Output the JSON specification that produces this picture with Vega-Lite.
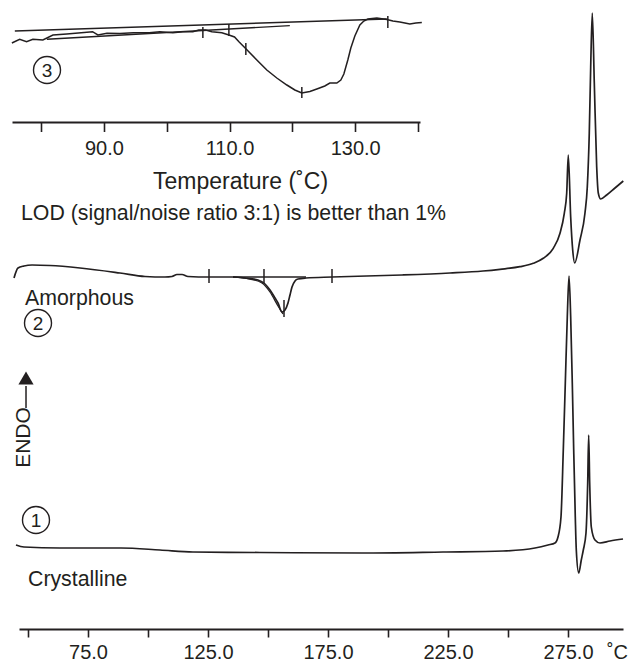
{
  "$schema": "https://vega.github.io/schema/vega-lite/v6.json",
  "width": 629,
  "height": 629,
  "autosize": {"type": "none"},
  "padding": {"left": 0, "top": 0, "right": 0, "bottom": 33},
  "config": {
    "view": {"stroke": null},
    "font": "Liberation Sans",
    "axis": {"grid": false, "domainColor": "#231f20", "tickColor": "#231f20", "labelColor": "#231f20", "titleColor": "#231f20", "domainWidth": 1.8, "tickWidth": 1.6, "labelFont": "Liberation Sans", "titleFont": "Liberation Sans", "titleFontWeight": "normal"}
  },
  "datasets": {
    "c1": [
      {"T": 45.0, "s": 84}, {"T": 48.33, "s": 82}, {"T": 63.33, "s": 81}, {"T": 88.75, "s": 81},
      {"T": 105, "s": 79}, {"T": 118.75, "s": 77}, {"T": 146.67, "s": 76.5}, {"T": 189.17, "s": 76},
      {"T": 222.92, "s": 77}, {"T": 247.92, "s": 78}, {"T": 261.25, "s": 81}, {"T": 266.67, "s": 84},
      {"T": 269.58, "s": 86}, {"T": 270.83, "s": 92}, {"T": 272.08, "s": 112}, {"T": 273.04, "s": 179},
      {"T": 273.88, "s": 246}, {"T": 274.71, "s": 312}, {"T": 275.42, "s": 353}, {"T": 276.12, "s": 312},
      {"T": 276.79, "s": 246}, {"T": 277.38, "s": 179}, {"T": 278.04, "s": 112}, {"T": 278.46, "s": 79},
      {"T": 279.46, "s": 56}, {"T": 280.54, "s": 69}, {"T": 281.38, "s": 79}, {"T": 282.5, "s": 96},
      {"T": 283.21, "s": 146}, {"T": 283.62, "s": 194}, {"T": 284.04, "s": 146}, {"T": 284.71, "s": 102},
      {"T": 286.25, "s": 89}, {"T": 288.33, "s": 86}, {"T": 292.5, "s": 88}, {"T": 297.92, "s": 90}
    ],
    "c2": [
      {"T": 44.17, "s": 351}, {"T": 45.83, "s": 361}, {"T": 48.33, "s": 363}, {"T": 51.67, "s": 364},
      {"T": 59.17, "s": 363.5}, {"T": 71.67, "s": 361}, {"T": 88.33, "s": 356}, {"T": 98.75, "s": 352.5},
      {"T": 107.08, "s": 352}, {"T": 110, "s": 352.5}, {"T": 112.08, "s": 354.5}, {"T": 114.17, "s": 354.5},
      {"T": 116.67, "s": 352.5}, {"T": 125.42, "s": 352}, {"T": 135.42, "s": 352}, {"T": 140.42, "s": 351},
      {"T": 145.83, "s": 349}, {"T": 148.75, "s": 345}, {"T": 150.83, "s": 339}, {"T": 152.92, "s": 331},
      {"T": 154.17, "s": 326}, {"T": 155.83, "s": 317}, {"T": 157.08, "s": 319}, {"T": 158.33, "s": 326},
      {"T": 159.17, "s": 334}, {"T": 160, "s": 342}, {"T": 161.25, "s": 348}, {"T": 162.5, "s": 350},
      {"T": 165.83, "s": 351}, {"T": 176.67, "s": 352}, {"T": 205.83, "s": 354}, {"T": 225.83, "s": 356},
      {"T": 239.58, "s": 358}, {"T": 246.67, "s": 359.7}, {"T": 255, "s": 362.3}, {"T": 260.54, "s": 365.7},
      {"T": 264.71, "s": 370.7}, {"T": 268.87, "s": 380.7}, {"T": 271.67, "s": 395.7}, {"T": 273.46, "s": 415.7},
      {"T": 274.46, "s": 435.7}, {"T": 275.12, "s": 474}, {"T": 276.12, "s": 412}, {"T": 276.96, "s": 379},
      {"T": 277.79, "s": 366}, {"T": 280, "s": 389}, {"T": 282.08, "s": 416}, {"T": 283.04, "s": 442},
      {"T": 283.87, "s": 496}, {"T": 284.46, "s": 562}, {"T": 285.12, "s": 616}, {"T": 285.96, "s": 546},
      {"T": 286.96, "s": 462}, {"T": 287.62, "s": 436}, {"T": 288.62, "s": 430}, {"T": 291.12, "s": 434},
      {"T": 294.58, "s": 441}, {"T": 298.04, "s": 448}
    ],
    "c2b": [
      {"T": 135.42, "s": 352}, {"T": 142.5, "s": 350}, {"T": 147.5, "s": 346},
      {"T": 150.83, "s": 337}, {"T": 154.17, "s": 323}, {"T": 156.25, "s": 315}
    ],
    "c2base": [{"T": 135.42, "T2": 165.83, "s": 352}],
    "c2ticks": [
      {"T": 125.42, "s": 360, "s2": 346}, {"T": 148.33, "s": 360, "s2": 346},
      {"T": 176.67, "s": 360, "s2": 346}, {"T": 156.67, "s": 329, "s2": 312}
    ],
    "arrow": [{"T": 49.17, "s": 221, "s2": 243}],
    "arrowhead": [{"T": 49.17, "s": 251}],
    "notes": [
      {"T": 47.08, "s": 409, "label": "LOD (signal/noise ratio 3:1) is better than 1%"},
      {"T": 48.75, "s": 324, "label": "Amorphous"},
      {"T": 50.0, "s": 43, "label": "Crystalline"}
    ],
    "endo": [{"T": 50.83, "s": 191.5, "label": "ENDO"}],
    "circles": [
      {"T": 57.92, "s": 559, "label": "3"},
      {"T": 54.17, "s": 306, "label": "2"},
      {"T": 53.33, "s": 109, "label": "1"}
    ],
    "c3": [
      {"T": 75.36, "s": 586}, {"T": 76.6, "s": 589.7}, {"T": 77.7, "s": 587.3}, {"T": 78.7, "s": 589.7},
      {"T": 80.29, "s": 589}, {"T": 81.9, "s": 594}, {"T": 84.1, "s": 595}, {"T": 88.2, "s": 597.3},
      {"T": 89.05, "s": 594}, {"T": 90.5, "s": 595.7}, {"T": 92.55, "s": 595.5}, {"T": 94.7, "s": 596.3},
      {"T": 97.2, "s": 596.3}, {"T": 98.91, "s": 597.3}, {"T": 100.98, "s": 596.3}, {"T": 102.57, "s": 597.3},
      {"T": 104.17, "s": 597.3}, {"T": 105.1, "s": 599}, {"T": 106.2, "s": 599}, {"T": 107.2, "s": 597.3},
      {"T": 108.78, "s": 596.3}, {"T": 109.9, "s": 594}, {"T": 110.8, "s": 592}, {"T": 111.5, "s": 587.3},
      {"T": 112.8, "s": 579}, {"T": 114.35, "s": 569}, {"T": 115.94, "s": 559},
      {"T": 117.53, "s": 551}, {"T": 119.13, "s": 544}, {"T": 120.4, "s": 539}, {"T": 121.51, "s": 536},
      {"T": 122.79, "s": 537.5}, {"T": 123.9, "s": 540}, {"T": 125.17, "s": 543}, {"T": 125.97, "s": 546},
      {"T": 127.08, "s": 546}, {"T": 127.72, "s": 549}, {"T": 128.2, "s": 555}, {"T": 128.83, "s": 569},
      {"T": 129.31, "s": 581}, {"T": 129.95, "s": 593}, {"T": 130.75, "s": 604}, {"T": 131.38, "s": 608},
      {"T": 132.02, "s": 610}, {"T": 133.45, "s": 611}, {"T": 135.04, "s": 609.5}, {"T": 136.0, "s": 608},
      {"T": 137.11, "s": 607}, {"T": 137.91, "s": 606}, {"T": 138.7, "s": 605}, {"T": 139.66, "s": 606},
      {"T": 140.61, "s": 606.5}
    ],
    "c3lines": [
      {"id": "a", "T": 75.83, "s": 598}, {"id": "a", "T": 135.04, "s": 610},
      {"id": "b", "T": 80.93, "s": 589.7}, {"id": "b", "T": 119.6, "s": 603.4}
    ],
    "c3ticks": [
      {"T": 105.76, "s": 602, "s2": 591}, {"T": 109.9, "s": 605, "s2": 593},
      {"T": 112.6, "s": 586, "s2": 574}, {"T": 121.51, "s": 542, "s2": 531},
      {"T": 135.2, "s": 613, "s2": 601}
    ]
  },
  "layer": [
    {
      "layer": [
        {
          "data": {"name": "c1"},
          "mark": {"type": "line", "interpolate": "monotone", "color": "#231f20", "strokeWidth": 1.7},
          "encoding": {
            "x": {"field": "T", "type": "quantitative",
              "scale": {"domain": [46.25, 297.92], "range": [19, 623], "nice": false, "zero": false},
              "axis": {"orient": "bottom", "values": [50, 75, 100, 125, 150, 175, 200, 225, 250, 275],
                "labelExpr": "datum.value % 50 == 25 ? format(datum.value, '.1f') : ''",
                "tickSize": 8, "labelPadding": 5, "labelFontSize": 20, "labelFlush": false, "labelOverlap": false,
                "title": "˚C", "titleFontSize": 20, "titleX": 617, "titleY": 29, "titleBaseline": "alphabetic", "titleAlign": "center"}},
            "y": {"field": "s", "type": "quantitative", "scale": {"domain": [0, 629], "nice": false, "zero": false}, "axis": null}
          }
        },
        {
          "data": {"name": "c2"},
          "mark": {"type": "line", "interpolate": "monotone", "color": "#231f20", "strokeWidth": 1.7},
          "encoding": {
            "x": {"field": "T", "type": "quantitative"},
            "y": {"field": "s", "type": "quantitative", "axis": null}
          }
        },
        {
          "data": {"name": "c2b"},
          "mark": {"type": "line", "interpolate": "monotone", "color": "#231f20", "strokeWidth": 1.3},
          "encoding": {
            "x": {"field": "T", "type": "quantitative"},
            "y": {"field": "s", "type": "quantitative", "axis": null}
          }
        },
        {
          "data": {"name": "c2base"},
          "mark": {"type": "rule", "color": "#231f20", "strokeWidth": 1.4},
          "encoding": {
            "x": {"field": "T", "type": "quantitative"},
            "x2": {"field": "T2"},
            "y": {"field": "s", "type": "quantitative", "axis": null}
          }
        },
        {
          "data": {"name": "c2ticks"},
          "mark": {"type": "rule", "color": "#231f20", "strokeWidth": 1.5},
          "encoding": {
            "x": {"field": "T", "type": "quantitative"},
            "y": {"field": "s", "type": "quantitative", "axis": null},
            "y2": {"field": "s2"}
          }
        },
        {
          "data": {"name": "arrow"},
          "mark": {"type": "rule", "color": "#231f20", "strokeWidth": 1.5},
          "encoding": {
            "x": {"field": "T", "type": "quantitative"},
            "y": {"field": "s", "type": "quantitative", "axis": null},
            "y2": {"field": "s2"}
          }
        },
        {
          "data": {"name": "arrowhead"},
          "mark": {"type": "point", "shape": "triangle-up", "filled": true, "size": 230, "color": "#231f20", "opacity": 1},
          "encoding": {
            "x": {"field": "T", "type": "quantitative"},
            "y": {"field": "s", "type": "quantitative", "axis": null}
          }
        },
        {
          "data": {"name": "notes"},
          "mark": {"type": "text", "align": "left", "baseline": "alphabetic", "fontSize": 21.3, "color": "#231f20", "font": "Liberation Sans"},
          "encoding": {
            "x": {"field": "T", "type": "quantitative"},
            "y": {"field": "s", "type": "quantitative", "axis": null},
            "text": {"field": "label"}
          }
        },
        {
          "data": {"name": "endo"},
          "mark": {"type": "text", "align": "center", "baseline": "alphabetic", "angle": 270, "fontSize": 21, "color": "#231f20", "font": "Liberation Sans"},
          "encoding": {
            "x": {"field": "T", "type": "quantitative"},
            "y": {"field": "s", "type": "quantitative", "axis": null},
            "text": {"field": "label"}
          }
        },
        {
          "data": {"name": "circles"},
          "mark": {"type": "point", "shape": "circle", "filled": false, "size": 729, "color": "#231f20", "strokeWidth": 1.4, "opacity": 1},
          "encoding": {
            "x": {"field": "T", "type": "quantitative"},
            "y": {"field": "s", "type": "quantitative", "axis": null}
          }
        },
        {
          "data": {"name": "circles"},
          "mark": {"type": "text", "align": "center", "baseline": "middle", "dy": 1, "fontSize": 19, "color": "#231f20", "font": "Liberation Sans"},
          "encoding": {
            "x": {"field": "T", "type": "quantitative"},
            "y": {"field": "s", "type": "quantitative", "axis": null},
            "text": {"field": "label"}
          }
        }
      ]
    },
    {
      "layer": [
        {
          "data": {"name": "c3"},
          "mark": {"type": "line", "interpolate": "linear", "color": "#231f20", "strokeWidth": 1.5},
          "encoding": {
            "x": {"field": "T", "type": "quantitative",
              "scale": {"domain": [75.38, 140.32], "range": [12, 420], "nice": false, "zero": false},
              "axis": {"orient": "bottom", "offset": -507, "values": [80, 90, 100, 110, 120, 130, 140],
                "labelExpr": "datum.value % 20 == 10 ? format(datum.value, '.1f') : ''",
                "tickSize": 9.5, "labelPadding": 7, "labelFontSize": 20, "labelFlush": false, "labelOverlap": false,
                "title": "Temperature (˚C)", "titleFontSize": 23, "titleX": 240, "titleY": 66, "titleBaseline": "alphabetic", "titleAlign": "center"}},
            "y": {"field": "s", "type": "quantitative", "axis": null}
          }
        },
        {
          "data": {"name": "c3lines"},
          "mark": {"type": "line", "color": "#231f20", "strokeWidth": 1.4},
          "encoding": {
            "x": {"field": "T", "type": "quantitative"},
            "y": {"field": "s", "type": "quantitative", "axis": null},
            "detail": {"field": "id"}
          }
        },
        {
          "data": {"name": "c3ticks"},
          "mark": {"type": "rule", "color": "#231f20", "strokeWidth": 1.5},
          "encoding": {
            "x": {"field": "T", "type": "quantitative"},
            "y": {"field": "s", "type": "quantitative", "axis": null},
            "y2": {"field": "s2"}
          }
        }
      ]
    }
  ],
  "resolve": {"scale": {"x": "independent"}, "axis": {"x": "independent"}}
}
